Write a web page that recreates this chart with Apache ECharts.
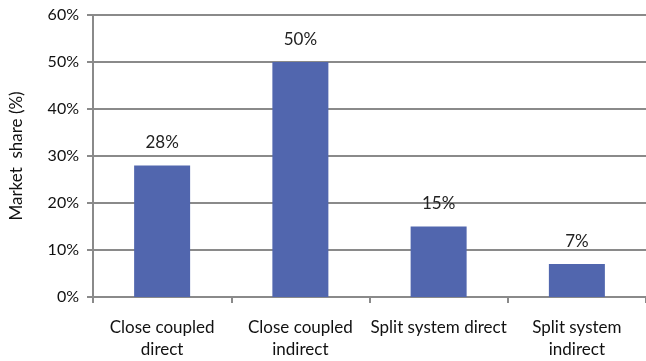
<!DOCTYPE html>
<html>
<head>
<meta charset="utf-8">
<script src="https://cdn.jsdelivr.net/npm/echarts@6/dist/echarts.min.js"></script>
<style>
  html, body { margin: 0; padding: 0; background: #fff; }
  #chart { width: 646px; height: 361px; }
</style>
</head>
<body>
<div id="chart"></div>
<script>
// Market share by system type
const categories = ['Close coupled\ndirect', 'Close coupled\nindirect', 'Split system direct', 'Split system\nindirect'];
const shares = [28, 50, 15, 7];
const yTicks = [0, 10, 20, 30, 40, 50, 60];

const FONT = 'Lato, "Open Sans", sans-serif';
const GRID_GRAY = '#8a8a8a';
const yMin = yTicks[0];
const yMax = yTicks[yTicks.length - 1];
const yStep = yTicks[1] - yTicks[0];

const chart = echarts.init(document.getElementById('chart'));
chart.setOption({
  animation: false,
  grid: { left: 92, right: -3, top: 15, bottom: 64 },
  xAxis: {
    type: 'category', data: categories,
    axisLine: { show: true, lineStyle: { color: GRID_GRAY, width: 2 } },
    axisTick: { show: true, alignWithLabel: false, length: 6, lineStyle: { color: GRID_GRAY, width: 2 } },
    axisLabel: { color: '#111', fontFamily: FONT, fontSize: 17, margin: 20, lineHeight: 22, interval: 0 }
  },
  yAxis: {
    type: 'value', min: yMin, max: yMax, interval: yStep,
    name: 'Market  share (%)', nameLocation: 'middle', nameGap: 68, nameRotate: 90,
    nameTextStyle: { color: '#111', fontFamily: FONT, fontSize: 17 },
    axisLine: { show: true, lineStyle: { color: GRID_GRAY, width: 2 } },
    axisTick: { show: true, length: 6, lineStyle: { color: GRID_GRAY, width: 2 } },
    axisLabel: { color: '#111', fontFamily: FONT, fontSize: 16, margin: 14, formatter: v => v + '%' },
    splitLine: { show: true, lineStyle: { color: GRID_GRAY, width: 2 } }
  },
  series: [
    {
      type: 'bar', data: shares, barWidth: 56,
      itemStyle: { color: '#5166ae' },
      label: {
        show: true, position: 'top', distance: 14, formatter: p => p.value + '%',
        color: '#222', fontFamily: FONT, fontSize: 17
      }
    }
  ]
});
</script>
</body>
</html>
